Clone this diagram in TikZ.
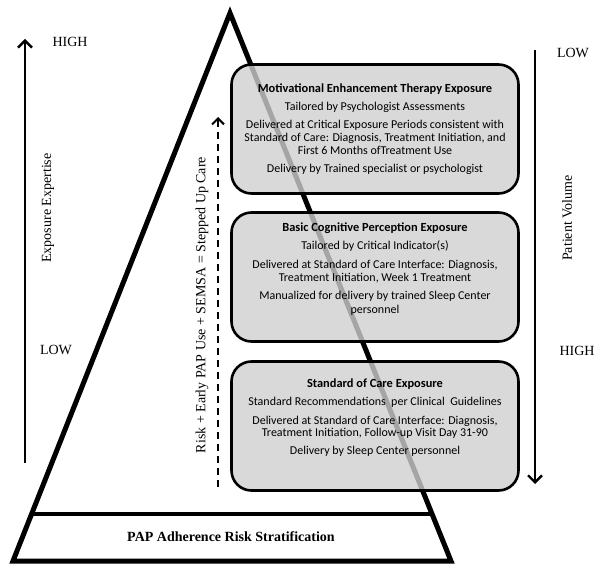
\documentclass[tikz,border=0pt]{standalone}
\usepackage{fontspec}
\setmainfont{Liberation Serif}
\newfontfamily\boxfont{Carlito}
\usetikzlibrary{arrows.meta,calc}
\begin{document}
\begin{tikzpicture}[x=1pt,y=-1pt,
  tri/.style={line width=5pt, line join=miter},
  stage/.style={draw, line width=2.6pt, rounded corners=20pt, fill=black!19, fill opacity=0.8,
    minimum width=287pt, minimum height=129pt, inner sep=0pt},
  ln/.style={font=\boxfont\fontsize{12}{13}\selectfont, anchor=base, inner sep=0pt},
  hd/.style={ln, font=\boxfont\bfseries\fontsize{12.4}{13}\selectfont},
  lab/.style={font=\fontsize{14}{16}\selectfont, inner sep=0pt},
  axis/.style={line width=2.4pt, -{Straight Barb[length=7pt,width=14pt,line width=2.4pt]}},
  dasharrow/.style={line width=2pt, dash pattern=on 7pt off 5pt, -{Straight Barb[length=6pt,width=12pt,line width=2pt]}}
]
\useasboundingbox (0,0) rectangle (600,572);
% pyramid
\coordinate (apex) at (230,13);
\coordinate (bl) at (13,561);
\coordinate (br) at (451,561);
\draw[tri] (apex) -- (bl) -- (br) -- cycle;
\coordinate (sl) at ($(apex)!0.9142!(bl)$);
\coordinate (sr) at ($(apex)!0.9142!(br)$);
\draw[line width=4pt] (sl) -- (sr);
\node[font=\bfseries\fontsize{14}{16}\selectfont] (base) at (231,537) {PAP Adherence Risk Stratification};

% stage boxes
\node[stage] (b1) at (375,129) {};
\node[stage] (b2) at (375,277) {};
\node[stage] (b3) at (375,426) {};

% box 1 text
\node[hd] (t11) at (375,93) {Motivational Enhancement Therapy Exposure};
\node[ln] (t12) at (375,111) {Tailored by Psychologist Assessments};
\node[ln] (t13) at (375,129) {Delivered at Critical Exposure Periods consistent with};
\node[ln] (t14) at (375,142) {Standard of Care: Diagnosis, Treatment Initiation, and};
\node[ln] (t15) at (375,155) {First 6 Months ofTreatment Use};
\node[ln] (t16) at (375,173) {Delivery by Trained specialist or psychologist};

% box 2 text
\node[hd] (t21) at (375,232) {Basic Cognitive Perception Exposure};
\node[ln] (t22) at (375,250) {Tailored by Critical Indicator(s)};
\node[ln] (t23) at (375,269) {Delivered at Standard of Care Interface: Diagnosis,};
\node[ln] (t24) at (375,282) {Treatment Initiation, Week 1 Treatment};
\node[ln] (t25) at (375,300) {Manualized for delivery by trained Sleep Center};
\node[ln] (t26) at (375,313) {personnel};

% box 3 text
\node[hd] (t31) at (375,387) {Standard of Care Exposure};
\node[ln] (t32) at (375,405) {Standard Recommendations\ \ per Clinical\ \ Guidelines};
\node[ln] (t33) at (375,424) {Delivered at Standard of Care Interface: Diagnosis,};
\node[ln] (t34) at (375,436) {Treatment Initiation, Follow-up Visit Day 31-90};
\node[ln] (t35) at (375,454) {Delivery by Sleep Center personnel};

% left axis
\coordinate (la0) at (25,463);
\coordinate (la1) at (25,39);
\draw[axis] (la0) -- (la1);
\node[lab] (lhigh) at (70,42) {HIGH};
\node[lab] (llow) at (56,350) {LOW};
\node[lab, rotate=90] (lname) at (48,208) {Exposure Expertise};

% right axis
\coordinate (ra0) at (535,50);
\coordinate (ra1) at (535,484);
\draw[axis] (ra0) -- (ra1);
\node[lab] (rlow) at (573,53) {LOW};
\node[lab] (rhigh) at (577,351) {HIGH};
\node[lab, rotate=90] (rname) at (567,218) {Patient Volume};

% stepped-up care
\coordinate (da0) at (218,487);
\coordinate (da1) at (218,117);
\draw[dasharrow] (da0) -- (da1);
\node[lab, rotate=90] (dname) at (202,305) {Risk + Early PAP Use + SEMSA = Stepped Up Care};
\end{tikzpicture}
\end{document}
